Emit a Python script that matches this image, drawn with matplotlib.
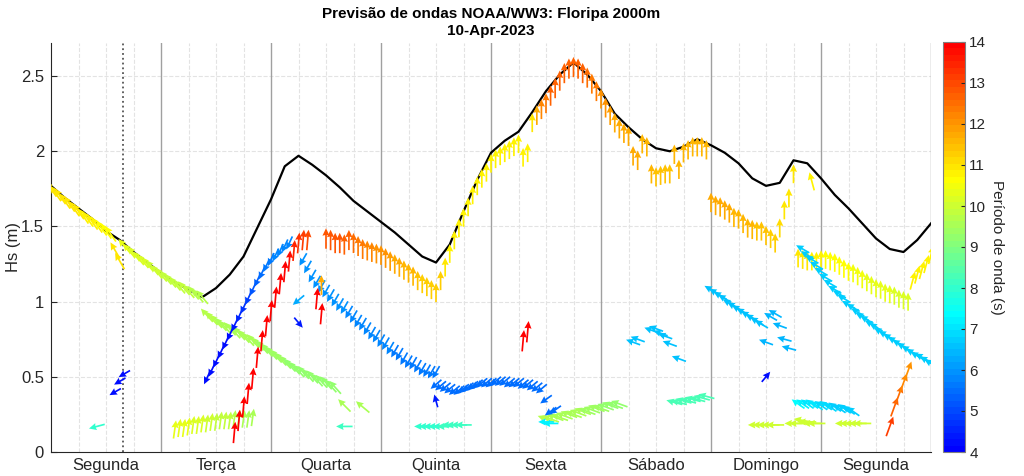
import numpy as np
import matplotlib
matplotlib.use("Agg")
import matplotlib.pyplot as plt
from matplotlib.colors import LinearSegmentedColormap, Normalize
from matplotlib.cm import ScalarMappable

plt.rcParams['font.family'] = ['Liberation Sans', 'DejaVu Sans']

TITLE = "Previsão de ondas NOAA/WW3: Floripa 2000m"
DATE = "10-Apr-2023"
DAYS = ["Segunda", "Terça", "Quarta", "Quinta", "Sexta", "Sábado", "Domingo", "Segunda"]
NOW = 15.75  # hours after the first midnight

# total Hs (black line), every 3 h from hour 0
total_t = list(range(0, 193, 3))
total_hs = [1.77, 1.69, 1.62, 1.55, 1.47, 1.41, 1.33, 1.26, 1.19, 1.13, 1.08, 1.03,
            1.09, 1.18, 1.30, 1.49, 1.68, 1.90, 1.97, 1.91, 1.84, 1.76, 1.67, 1.60,
            1.53, 1.46, 1.38, 1.30, 1.26, 1.38, 1.60, 1.81, 1.99, 2.07, 2.13, 2.26,
            2.40, 2.51, 2.59, 2.51, 2.40, 2.25, 2.16, 2.08, 2.02, 2.00, 2.03, 2.08,
            2.04, 1.99, 1.92, 1.82, 1.77, 1.79, 1.94, 1.92, 1.82, 1.71, 1.62, 1.52,
            1.42, 1.35, 1.33, 1.41, 1.52]

# wave partitions, hourly: start hour, Hs (m), period (s), arrow direction (deg, 0 = up)
a_start, a_dir = 0, 325
a_hs = [1.75, 1.72, 1.70, 1.67, 1.65, 1.62, 1.60, 1.57, 1.55, 1.53, 1.51, 1.49, 1.47, 1.45]
a_per = [11.0, 11.0, 11.0, 10.9, 10.9, 10.9, 10.9, 10.8, 10.8, 10.8, 10.8, 10.7, 10.7, 10.7]

a2_start, a2_dir = 14, 330
a2_hs = [1.34, 1.27]
a2_per = [10.9, 10.9]

b_start, b_dir = 16, 320
b_hs = [1.37, 1.34, 1.32, 1.29, 1.27, 1.25, 1.23, 1.20, 1.18, 1.16, 1.14, 1.12, 1.10, 1.09,
        1.07, 1.06, 1.04, 1.03]
b_per = [10.3, 10.3, 10.2, 10.2, 10.1, 10.1, 10.0, 10.0, 10.0, 9.9, 9.9, 9.9, 9.8, 9.8,
         9.8, 9.7, 9.7, 9.7]

c_start, c_dir = 34, 318
c_hs = [0.91, 0.89, 0.87, 0.85, 0.83, 0.82, 0.80, 0.79, 0.77, 0.75, 0.74, 0.72, 0.70, 0.68,
        0.66, 0.64, 0.62, 0.60, 0.58, 0.56, 0.54, 0.53, 0.51, 0.50, 0.48, 0.47, 0.46, 0.44, 0.43]
c_per = [9.7, 9.7, 9.7, 9.6, 9.6, 9.6, 9.6, 9.5, 9.5, 9.5, 9.5, 9.5, 9.4, 9.4,
         9.4, 9.4, 9.4, 9.4, 9.3, 9.3, 9.3, 9.3, 9.3, 9.3, 9.3, 9.2, 9.2, 9.2, 9.2]

d_start, d_dir = 27, 8
d_hs = [0.15, 0.16, 0.16, 0.17, 0.18, 0.18, 0.19, 0.19, 0.20, 0.20, 0.21, 0.21, 0.21, 0.22,
        0.22, 0.22, 0.22, 0.23]
d_per = [10.4, 10.4, 10.3, 10.3, 10.2, 10.2, 10.1, 10.0, 10.0, 9.9, 9.9, 9.8, 9.8, 9.7,
         9.7, 9.6, 9.6, 9.5]

e_start, e_dir = 34, 205
e_hs = [0.49, 0.54, 0.60, 0.66, 0.72, 0.78, 0.84, 0.90, 0.96, 1.02, 1.08, 1.14, 1.19, 1.24,
        1.28, 1.31, 1.34, 1.37, 1.39]
e_per = [4.3, 4.3, 4.3, 4.3, 4.3, 4.3, 4.4, 4.5, 4.7, 4.9, 5.1, 5.3, 5.5, 5.6,
         5.7, 5.8, 5.8, 5.8, 5.8]

g_start, g_dir = 40, 5
g_hs = [0.13, 0.21, 0.30, 0.39, 0.49, 0.63, 0.74, 0.84, 0.94, 1.03, 1.12, 1.20, 1.27, 1.34,
        1.39, 1.41, 1.41]
g_per = [14.0, 14.0, 14.0, 14.0, 14.0, 14.0, 14.0, 14.0, 14.0, 14.0, 14.0, 14.0, 13.8, 13.5,
         13.3, 13.1, 13.0]

h_start, h_dir = 60, 0
h_hs = [1.42, 1.41, 1.39, 1.39, 1.38, 1.41, 1.39, 1.37, 1.35, 1.34, 1.33, 1.32, 1.31, 1.29,
        1.27, 1.25, 1.23, 1.21, 1.19, 1.17, 1.14, 1.12, 1.10, 1.08, 1.06]
h_per = [12.9, 12.9, 12.8, 12.8, 12.7, 12.6, 12.5, 12.4, 12.3, 12.2, 12.2, 12.1, 12.0, 12.0,
         11.9, 11.8, 11.7, 11.6, 11.5, 11.5, 11.4, 11.3, 11.3, 11.2, 11.2]

f_start, f_dir = 55, 210
f_hs = [1.28, 1.23, 1.17, 1.13, 1.10, 1.07, 1.04, 1.01, 0.98, 0.96, 0.93, 0.90, 0.87, 0.85,
        0.82, 0.79, 0.77, 0.74, 0.72, 0.69, 0.67, 0.65, 0.62, 0.60, 0.59, 0.57, 0.55, 0.54,
        0.53, 0.53]
f_per = [5.9, 5.9, 5.9, 5.9, 5.9, 5.9, 5.9, 5.9, 5.9, 5.9, 5.8, 5.8, 5.8, 5.8,
         5.8, 5.8, 5.8, 5.8, 5.8, 5.8, 5.7, 5.7, 5.7, 5.7, 5.7, 5.7, 5.7, 5.7,
         5.7, 5.7]

f2_start, f2_dir = 84, 230
f2_hs = [0.45, 0.44, 0.43, 0.42, 0.41, 0.41, 0.42, 0.43, 0.44, 0.45, 0.46, 0.46, 0.46, 0.47,
         0.47, 0.47, 0.46, 0.46, 0.46, 0.45, 0.45, 0.44, 0.43, 0.42]
f2_per = [5.5, 5.5, 5.5, 5.5, 5.5, 5.5, 5.5, 5.5, 5.5, 5.5, 5.5, 5.5, 5.5, 5.5,
          5.5, 5.5, 5.5, 5.5, 5.5, 5.5, 5.5, 5.5, 5.5, 5.5]

nan = float("nan")
i_start, i_dir = 85, 0
i_hs = [1.14, 1.23, 1.32, 1.41, 1.49, 1.56, 1.63, 1.71, 1.77, 1.82, 1.86, 1.92, 1.95, 1.97,
        1.99, 2.01, 2.03, 2.05, nan, nan, 2.19, 2.24, 2.28, 2.32, 2.37, 2.42, 2.47, 2.52,
        2.55, 2.56, 2.55, 2.52, 2.49, 2.45, 2.40, 2.35, 2.29, 2.24, 2.19, 2.15, 2.12, 2.10,
        nan, nan, 2.05, 2.03, nan, nan, nan, nan, nan, 1.98, nan, 1.99, 2.01, 2.03,
        2.03, 2.03, 2.01]
i_per = [11.3, 11.0, 10.8, 10.8, 10.8, 10.8, 10.8, 10.8, 10.8, 10.8, 10.8, 10.8, 10.8, 10.8,
         10.8, 10.8, 10.8, 10.8, 10.8, 10.8, 11.0, 11.8, 12.2, 12.4, 12.6, 12.6, 12.6, 12.6,
         12.6, 12.6, 12.6, 12.6, 12.5, 12.4, 12.3, 12.1, 12.0, 11.9, 11.8, 11.7, 11.7, 11.7,
         11.6, 11.6, 11.6, 11.6, 11.6, 11.6, 11.6, 11.6, 11.6, 11.6, 11.6, 11.6, 11.6, 11.6,
         11.6, 11.6, 11.6]

j_start, j_dir = 144, 0
j_hs = [1.66, 1.64, 1.63, 1.61, 1.59, 1.56, 1.55, 1.52, 1.49, 1.48, 1.47, 1.47, 1.44, 1.42,
        1.39, 1.49, 1.61, 1.69, 1.85]
j_per = [11.8, 11.8, 11.7, 11.7, 11.7, 11.6, 11.6, 11.5, 11.5, 11.5, 11.4, 11.4, 11.4, 11.3,
         11.3, 11.1, 11.0, 11.0, 10.9]

k_start, k_dir = 108, 290
k_hs = [0.22, 0.22, 0.23, 0.23, 0.24, 0.25, 0.25, 0.26, 0.27, 0.27, 0.28, 0.29, 0.29, 0.30,
        0.31, 0.31, 0.32]
k_per = [9.7, 9.7, 9.6, 9.6, 9.6, 9.5, 9.5, 9.5, 9.5, 9.4, 9.4, 9.4, 9.4, 9.3,
         9.3, 9.3, 9.3]

l_start, l_dir = 144, 300
l_hs = [1.08, 1.06, 1.04, 1.02, 0.99, 0.97, 0.95, 0.93, 0.91, 0.89, 0.87, 0.85]
l_per = [6.6, 6.6, 6.6, 6.6, 6.6, 6.6, 6.6, 6.6, 6.6, 6.6, 6.6, 6.6]

m_start, m_dir = 163, 305
m_hs = [0.32, 0.32, 0.32, 0.32, 0.31, 0.31, 0.31, 0.30, 0.30, 0.29, 0.29, 0.28, 0.27]
m_per = [7.3, 7.2, 7.1, 7.0, 7.0, 6.9, 6.9, 6.9, 6.8, 6.8, 6.8, 6.8, 6.8]

n_start, n_dir = 163, 0
n_hs = [1.29, 1.28, 1.27, 1.27, 1.27, 1.28, 1.28, 1.27, 1.26, 1.24, 1.22, 1.20, 1.19, 1.17,
        1.15, 1.13, 1.11, 1.09, 1.08, 1.06, 1.05, 1.04, 1.02, 1.01, 1.00]
n_per = [10.9, 10.9, 10.9, 10.8, 10.8, 10.8, 10.7, 10.7, 10.7, 10.6, 10.6, 10.6, 10.5, 10.5,
         10.5, 10.4, 10.4, 10.4, 10.3, 10.3, 10.3, 10.2, 10.2, 10.2, 10.2]

n2_start, n2_dir = 188, 15
n2_hs = [1.14, 1.18, 1.21, 1.25, 1.31]
n2_per = [10.8, 10.8, 10.8, 10.8, 10.8]

o_start, o_dir = 164, 300
o_hs = [1.35, 1.31, 1.28, 1.24, 1.20, 1.16, 1.12, 1.08, 1.05, 1.02, 0.98, 0.96, 0.93, 0.90,
        0.88, 0.85, 0.83, 0.80, 0.78, 0.76, 0.74, 0.72, 0.70, 0.68, 0.66, 0.64, 0.63, 0.61, 0.59]
o_per = [6.7, 6.7, 6.7, 6.7, 6.7, 6.7, 6.7, 6.7, 6.7, 6.7, 6.7, 6.7, 6.7, 6.7,
         6.7, 6.7, 6.7, 6.7, 6.7, 6.7, 6.7, 6.7, 6.7, 6.7, 6.7, 6.7, 6.7, 6.7, 6.7]

p_start, p_dir = 184, 20
p_hs = [0.30, 0.38, 0.46, 0.54]
p_per = [12.7, 12.5, 12.2, 12.0]

teal_start, teal_dir = 81, 270
teal_hs = [0.17, 0.17, 0.17, 0.17, 0.17, 0.17, 0.18, 0.18, 0.18, 0.18]
teal_per = [8.0, 8.0, 8.0, 8.0, 8.0, 8.1, 8.1, 8.1, 8.2, 8.2]

aqua_start, aqua_dir = 136, 285
aqua_hs = [0.33, 0.33, 0.34, 0.34, 0.35, 0.35, 0.36, 0.37]
aqua_per = [8.3, 8.3, 8.3, 8.3, 8.3, 8.3, 8.3, 8.3]

# partitions that only show up at some hours
low_t = [103, 104, 127, 128, 131, 132, 133, 134, 135, 137]
low_hs = [1.96, 1.99, 1.97, 1.94, 1.85, 1.83, 1.84, 1.85, 1.85, 1.88]
low_per = [10.8, 10.8, 11.8, 11.8, 11.5, 11.4, 11.4, 11.4, 11.4, 11.5]
low_dir = [0, 0, 0, 0, 0, 0, 0, 0, 0, 0]

sab_t = [127, 128, 131, 132, 133, 134, 135, 137]
sab_hs = [0.73, 0.75, 0.81, 0.82, 0.79, 0.77, 0.72, 0.62]
sab_per = [6.5, 6.5, 6.5, 6.5, 6.5, 6.5, 6.5, 6.5]
sab_dir = [290, 290, 290, 290, 290, 290, 290, 290]

dom_t = [156, 157, 158, 159, 160, 161]
dom_hs = [0.73, 0.90, 0.92, 0.84, 0.75, 0.69]
dom_per = [6.4, 6.4, 6.4, 6.4, 6.4, 6.4]
dom_dir = [290, 300, 300, 290, 285, 285]

grn_t = [154, 155, 156, 157, 158, 162, 163, 164, 165, 166, 167, 173, 174, 175, 176, 177]
grn_hs = [0.18, 0.18, 0.18, 0.18, 0.18, 0.19, 0.19, 0.21, 0.20, 0.19, 0.19, 0.19, 0.19, 0.19,
          0.19, 0.19]
grn_per = [10.0, 10.0, 10.0, 10.0, 10.0, 10.0, 10.0, 10.0, 10.0, 10.0, 10.0, 10.0, 10.0, 10.0,
           10.0, 10.0]
grn_dir = [270, 270, 270, 270, 270, 270, 270, 280, 270, 270, 270, 270, 270, 270, 270, 270]

one_t = [10, 14, 15, 16, 54, 54, 58, 59, 59, 64, 68, 64, 84, 103, 104, 108, 109, 110,
         108, 109, 156, 166, 183]
one_hs = [0.17, 0.40, 0.47, 0.52, 1.01, 0.86, 1.02, 0.92, 1.11, 0.31, 0.30, 0.17, 0.34, 0.74,
          0.80, 0.35, 0.27, 0.28, 0.20, 0.19, 0.50, 1.80, 0.17]
one_per = [8.0, 4.3, 4.3, 4.3, 6.3, 4.4, 14.0, 14.0, 11.8, 9.5, 9.5, 8.2, 4.4, 14.0,
           14.0, 5.5, 5.5, 5.5, 7.2, 7.2, 4.3, 10.8, 13.2]
one_dir = [255, 240, 240, 240, 230, 140, 5, 5, 0, 315, 310, 270, 345, 5,
           5, 235, 235, 235, 270, 270, 40, 345, 20]

cmap = LinearSegmentedColormap.from_list("jet_cut", ["#0000ff", "#00ffff", "#ffff00", "#ff0000"], N=64)
norm = Normalize(4, 14)


def arrows(ax, t, hs, per, direc):
    t = np.asarray(t, float)
    hs = np.asarray(hs, float)
    per = np.asarray(per, float)
    d = np.radians(np.broadcast_to(np.asarray(direc, float), hs.shape))
    ok = ~np.isnan(hs)
    L = (9.5 + 0.85 * per[ok]) / 100.0   # arrow length in inches
    ax.quiver(t[ok], hs[ok], L * np.sin(d[ok]), L * np.cos(d[ok]), per[ok],
              cmap=cmap, norm=norm, angles='uv', scale_units='inches', scale=1,
              pivot='middle', units='dots', width=1.7, headwidth=4.2, headlength=4.4,
              headaxislength=4.0, zorder=4)


def track(ax, start, hs, per, direc):
    arrows(ax, start + np.arange(len(hs)), hs, per, direc)


fig = plt.figure(figsize=(10.24, 4.76), dpi=100)
ax = fig.add_axes([51 / 1024, 24 / 476, 880 / 1024, 409 / 476])

# grid
for h in range(6, 192, 6):
    if h % 24:
        ax.axvline(h, color='#e3e3e3', lw=0.8, ls='--', zorder=0)
for y in [0.5, 1, 1.5, 2, 2.5]:
    ax.axhline(y, color='#e3e3e3', lw=0.8, ls='--', zorder=0)
for h in range(24, 193, 24):
    ax.axvline(h, color='#a0a0a0', lw=1.0, zorder=1)
ax.axvline(NOW, color='#555555', lw=1.3, ls=':', zorder=1)

ax.plot(total_t, total_hs, color='black', lw=1.6, zorder=2)

track(ax, a_start, a_hs, a_per, a_dir)
track(ax, a2_start, a2_hs, a2_per, a2_dir)
track(ax, b_start, b_hs, b_per, b_dir)
track(ax, c_start, c_hs, c_per, c_dir)
track(ax, d_start, d_hs, d_per, d_dir)
track(ax, e_start, e_hs, e_per, e_dir)
track(ax, g_start, g_hs, g_per, g_dir)
track(ax, f_start, f_hs, f_per, f_dir)
track(ax, f2_start, f2_hs, f2_per, f2_dir)
track(ax, h_start, h_hs, h_per, h_dir)
track(ax, i_start, i_hs, i_per, i_dir)
track(ax, j_start, j_hs, j_per, j_dir)
track(ax, k_start, k_hs, k_per, k_dir)
track(ax, l_start, l_hs, l_per, l_dir)
track(ax, m_start, m_hs, m_per, m_dir)
track(ax, n_start, n_hs, n_per, n_dir)
track(ax, n2_start, n2_hs, n2_per, n2_dir)
track(ax, o_start, o_hs, o_per, o_dir)
track(ax, p_start, p_hs, p_per, p_dir)
track(ax, teal_start, teal_hs, teal_per, teal_dir)
track(ax, aqua_start, aqua_hs, aqua_per, aqua_dir)
arrows(ax, low_t, low_hs, low_per, low_dir)
arrows(ax, sab_t, sab_hs, sab_per, sab_dir)
arrows(ax, dom_t, dom_hs, dom_per, dom_dir)
arrows(ax, grn_t, grn_hs, grn_per, grn_dir)
arrows(ax, one_t, one_hs, one_per, one_dir)

ax.set_xlim(0, 192)
ax.set_ylim(0, 2.72)
ax.set_xticks([12 + 24 * k for k in range(8)])
ax.set_xticklabels(DAYS)
ax.set_yticks([0, 0.5, 1, 1.5, 2, 2.5])
ax.set_yticklabels(['0', '0.5', '1', '1.5', '2', '2.5'])
ax.tick_params(axis='x', length=0, labelsize=12, colors='#262626', pad=4)
ax.tick_params(axis='y', direction='in', length=4, labelsize=12, colors='#262626', pad=5)
for s in ['top', 'right']:
    ax.spines[s].set_visible(False)
for s in ['left', 'bottom']:
    ax.spines[s].set_color('#262626')
ax.set_ylabel('Hs (m)', fontsize=12, color='#262626', labelpad=0)
ax.set_title(TITLE + "\n" + DATE, fontsize=11, fontweight='bold', pad=6)

cax = fig.add_axes([943 / 1024, 24 / 476, 22 / 1024, 410 / 476])
cb = fig.colorbar(ScalarMappable(norm=norm, cmap=cmap), cax=cax, ticks=range(4, 15))
cb.outline.set_edgecolor('#808080')
cb.ax.tick_params(labelsize=11, colors='#262626', direction='in', length=3, pad=3)
cb.set_label('Período de onda (s)', rotation=270, labelpad=13, fontsize=11, color='#262626')

fig.savefig('out.png', dpi=100)
